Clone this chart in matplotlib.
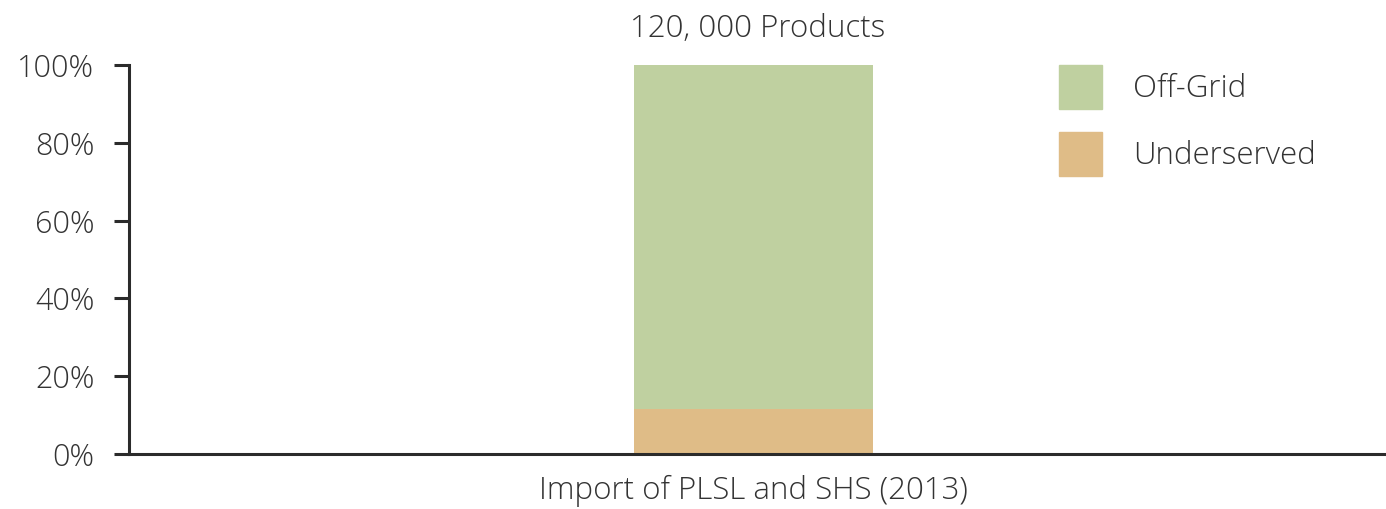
import matplotlib.pyplot as plt
from matplotlib.patches import Patch
from matplotlib.ticker import PercentFormatter

plt.rcParams['font.family'] = ['Open Sans', 'DejaVu Sans']
plt.rcParams['font.weight'] = 'light'

# Datos
categories = ['Import of PLSL and SHS (2013)']
underserved = [11.6]
off_grid = [88.4]
title = '120, 000 Products'

green = '#bfd0a0'
orange = '#dfbc87'
dark = '#2b2b2b'

fig = plt.figure(figsize=(13.86, 5.09), dpi=100)
ax = fig.add_axes([129 / 1386, 1 - 454 / 509, 1 - 129 / 1386, 389 / 509])

x = range(len(categories))
ax.bar(x, underserved, width=0.19, color=orange)
ax.bar(x, off_grid, bottom=underserved, width=0.19, color=green)

ax.set_xlim(-0.497, 0.503)
ax.set_ylim(0, 100)
ax.set_yticks([0, 20, 40, 60, 80, 100])
ax.yaxis.set_major_formatter(PercentFormatter(decimals=0))
ax.set_xticks(list(x))
ax.set_xticklabels(categories)
ax.tick_params(axis='x', length=0, pad=15, labelsize=22.5, labelcolor='#333333')
ax.tick_params(axis='y', length=11, width=2.2, color=dark, pad=14,
               labelsize=22, labelcolor='#333333')

for side in ['top', 'right']:
    ax.spines[side].set_visible(False)
for side in ['left', 'bottom']:
    ax.spines[side].set_linewidth(2.2)
    ax.spines[side].set_color(dark)

ax.set_title(title, fontsize=22.5, color='#333333', pad=20, fontweight='light')

handles = [Patch(color=green), Patch(color=orange)]
ax.legend(handles, ['Off-Grid', 'Underserved'], frameon=False, fontsize=22.5,
          loc='upper left', bbox_to_anchor=((1059 - 129) / 1257, 1.0),
          handlelength=1.37, handleheight=1.78, handletextpad=1.0,
          labelspacing=0.75, borderaxespad=0, borderpad=0,
          labelcolor='#333333')

fig.savefig('out.png', dpi=100)
